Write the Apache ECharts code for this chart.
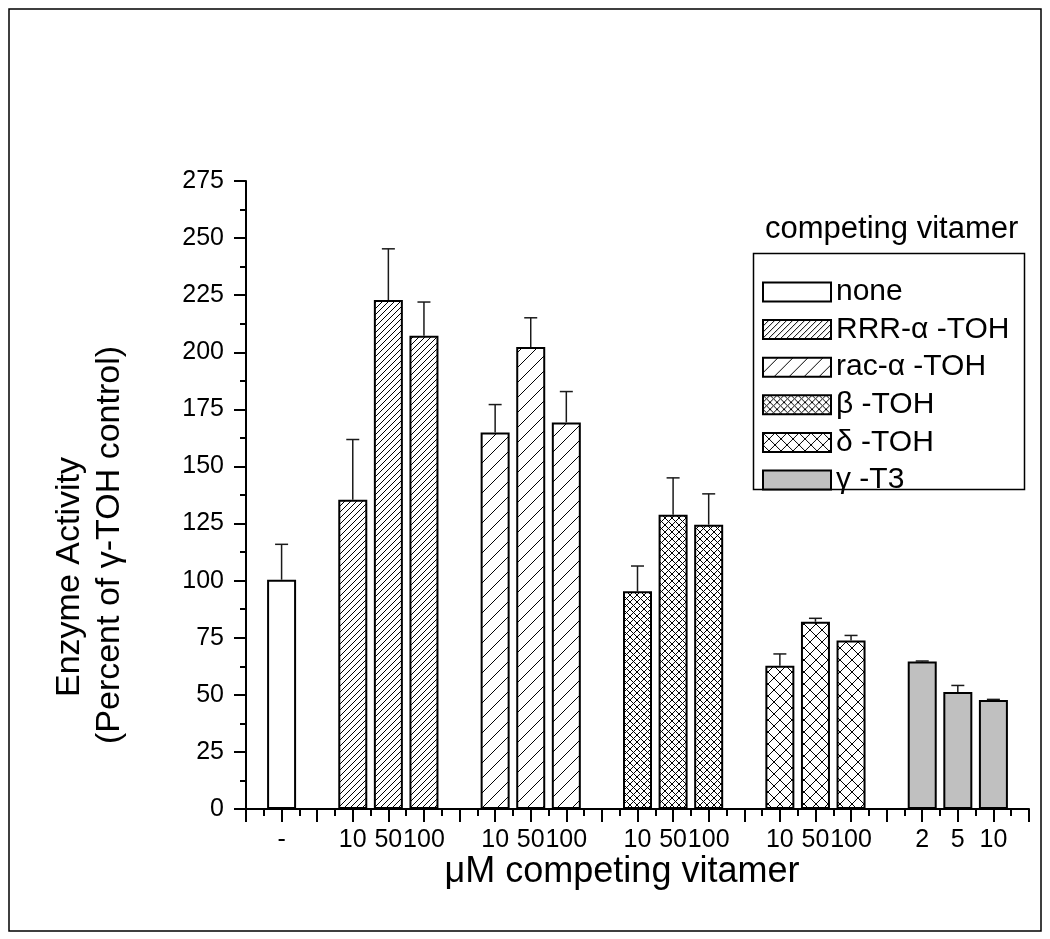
<!DOCTYPE html>
<html lang="en">
<head>
<meta charset="UTF-8" />
<title>Enzyme Activity</title>
<style>
	* { margin: 0; padding: 0; box-sizing: border-box; }
	html, body { width: 1050px; height: 939px; background: #fff; overflow: hidden; }
	#chart { width: 1050px; height: 939px; }
</style>
</head>
<body>
<div id="chart"></div>
<script src="https://cdn.jsdelivr.net/npm/echarts@6/dist/echarts.min.js"></script>
<script>
// competing vitamers, in legend order
const vitamers = ['none', 'RRR-α -TOH', 'rac-α -TOH', 'β -TOH', 'δ -TOH', 'γ -T3'];
// bar positions on the numeric x axis
const positions = [[1], [3, 4, 5], [7, 8, 9], [11, 12, 13], [15, 16, 17], [19, 20, 21]];
// dose labels under the bars (μM)
const doses = [['-'], ['10', '50', '100'], ['10', '50', '100'], ['10', '50', '100'], ['10', '50', '100'], ['2', '5', '10']];
// enzyme activity, percent of γ-TOH control
const means = [[100.4], [135.4, 222.9, 207.2], [164.9, 202.3, 169.3], [95.3, 128.8, 124.5], [62.7, 82.0, 73.8], [64.6, 51.2, 47.7]];
// top of each error bar
const errTops = [[115.9], [161.8, 245.3, 222.0], [177.1, 215.1, 182.8], [106.4, 145.0, 138.0], [67.9, 83.5, 76.0], [64.8, 54.1, 48.0]];

const FONT = '"Liberation Sans", Arial, sans-serif';

// hatch tiles: dirs '/' and/or '\'
function hatch(size, dirs, lw) {
	const c = document.createElement('canvas');
	c.width = c.height = size;
	const g = c.getContext('2d');
	g.fillStyle = '#fff';
	g.fillRect(0, 0, size, size);
	g.strokeStyle = '#000';
	g.lineWidth = lw || 1;
	for (const k of [-size, 0, size]) {
		if (dirs.indexOf('/') >= 0) {
			g.beginPath(); g.moveTo(k - 1, size + 1); g.lineTo(k + size + 1, -1); g.stroke();
		}
		if (dirs.indexOf('\\') >= 0) {
			g.beginPath(); g.moveTo(k - 1, -1); g.lineTo(k + size + 1, size + 1); g.stroke();
		}
	}
	return { image: c, repeat: 'repeat' };
}

const fills = [
	'#fff',
	hatch(6, '/'),
	hatch(15, '/'),
	hatch(7, '/\\'),
	hatch(12, '/\\'),
	'#c0c0c0'
];

// x labels keyed by position
const labelAt = {};
positions.forEach((ps, i) => ps.forEach((p, j) => { labelAt[p] = doses[i][j]; }));

const barSeries = vitamers.map((name, i) => ({
	type: 'bar',
	name: name,
	barWidth: 29,
	barGap: '-100%',
	data: positions[i].map((x, j) => [x, means[i][j]]),
	itemStyle: { color: fills[i], borderColor: '#000', borderWidth: 2 },
	emphasis: { disabled: true },
	z: 2
}));

const errData = [];
positions.forEach((ps, i) => ps.forEach((x, j) => errData.push([x, means[i][j], errTops[i][j]])));

const errSeries = {
	type: 'custom',
	name: 'err',
	data: errData,
	z: 3,
	silent: true,
	renderItem: function (params, api) {
		const p0 = api.coord([api.value(0), api.value(1)]);
		const p1 = api.coord([api.value(0), api.value(2)]);
		const st = { stroke: '#1a1a1a', lineWidth: 1.5 };
		return {
			type: 'group',
			children: [
				{ type: 'line', shape: { x1: p0[0], y1: p0[1], x2: p1[0], y2: p1[1] }, style: st },
				{ type: 'line', shape: { x1: p1[0] - 6.5, y1: p1[1], x2: p1[0] + 6.5, y2: p1[1] }, style: st }
			]
		};
	}
};

const chart = echarts.init(document.getElementById('chart'));
chart.setOption({
	animation: false,
	backgroundColor: '#fff',
	textStyle: { fontFamily: FONT },
	title: {
		text: 'competing vitamer',
		left: 765,
		top: 214,
		padding: 0,
		textStyle: { fontSize: 31, fontWeight: 'normal', color: '#000', fontFamily: FONT }
	},
	legend: {
		data: vitamers,
		orient: 'vertical',
		left: 762,
		top: 277,
		itemWidth: 68,
		itemHeight: 19,
		itemGap: 7.6,
		padding: 0,
		selectedMode: false,
		icon: 'rect',
		textStyle: { fontSize: 30, color: '#000', fontFamily: FONT }
	},
	grid: { left: 246, top: 181, right: 21, bottom: 130 },
	xAxis: {
		type: 'value',
		min: 0,
		max: 22,
		interval: 1,
		splitLine: { show: false },
		axisLine: { lineStyle: { color: '#000', width: 2 } },
		axisTick: { length: 13, lineStyle: { color: '#000', width: 2 } },
		minorTick: { show: true, splitNumber: 2, length: 7, lineStyle: { color: '#000', width: 2 } },
		axisLabel: {
			margin: 19,
			fontSize: 25,
			color: '#000',
			fontFamily: FONT,
			formatter: v => labelAt[v] || ''
		}
	},
	yAxis: {
		type: 'value',
		min: 0,
		max: 275,
		interval: 25,
		splitLine: { show: false },
		axisLine: { show: true, lineStyle: { color: '#000', width: 2 } },
		axisTick: { show: true, length: 12, lineStyle: { color: '#000', width: 2 } },
		minorTick: { show: true, splitNumber: 2, length: 6, lineStyle: { color: '#000', width: 2 } },
		axisLabel: { margin: 22, fontSize: 25, color: '#000', fontFamily: FONT }
	},
	graphic: [
		{
			type: 'rect',
			shape: { x: 9, y: 9, width: 1032, height: 922 },
			style: { fill: 'none', stroke: '#000', lineWidth: 1.5 },
			silent: true
		},
		{
			type: 'rect',
			shape: { x: 753.5, y: 253.5, width: 271, height: 236 },
			style: { fill: 'none', stroke: '#000', lineWidth: 1.5 },
			silent: true
		},
		{
			type: 'text',
			x: 70, y: 577, rotation: Math.PI / 2,
			style: { text: 'Enzyme Activity', fontSize: 34, fill: '#000', fontFamily: FONT, textAlign: 'center', textVerticalAlign: 'middle' }
		},
		{
			type: 'text',
			x: 110, y: 545, rotation: Math.PI / 2,
			style: { text: '(Percent of γ-TOH control)', fontSize: 34, fill: '#000', fontFamily: FONT, textAlign: 'center', textVerticalAlign: 'middle' }
		},
		{
			type: 'text',
			x: 622, y: 872,
			style: { text: 'μM competing vitamer', fontSize: 36, fill: '#000', fontFamily: FONT, textAlign: 'center', textVerticalAlign: 'middle' }
		}
	],
	series: barSeries.concat([errSeries])
});
</script>
</body>
</html>
